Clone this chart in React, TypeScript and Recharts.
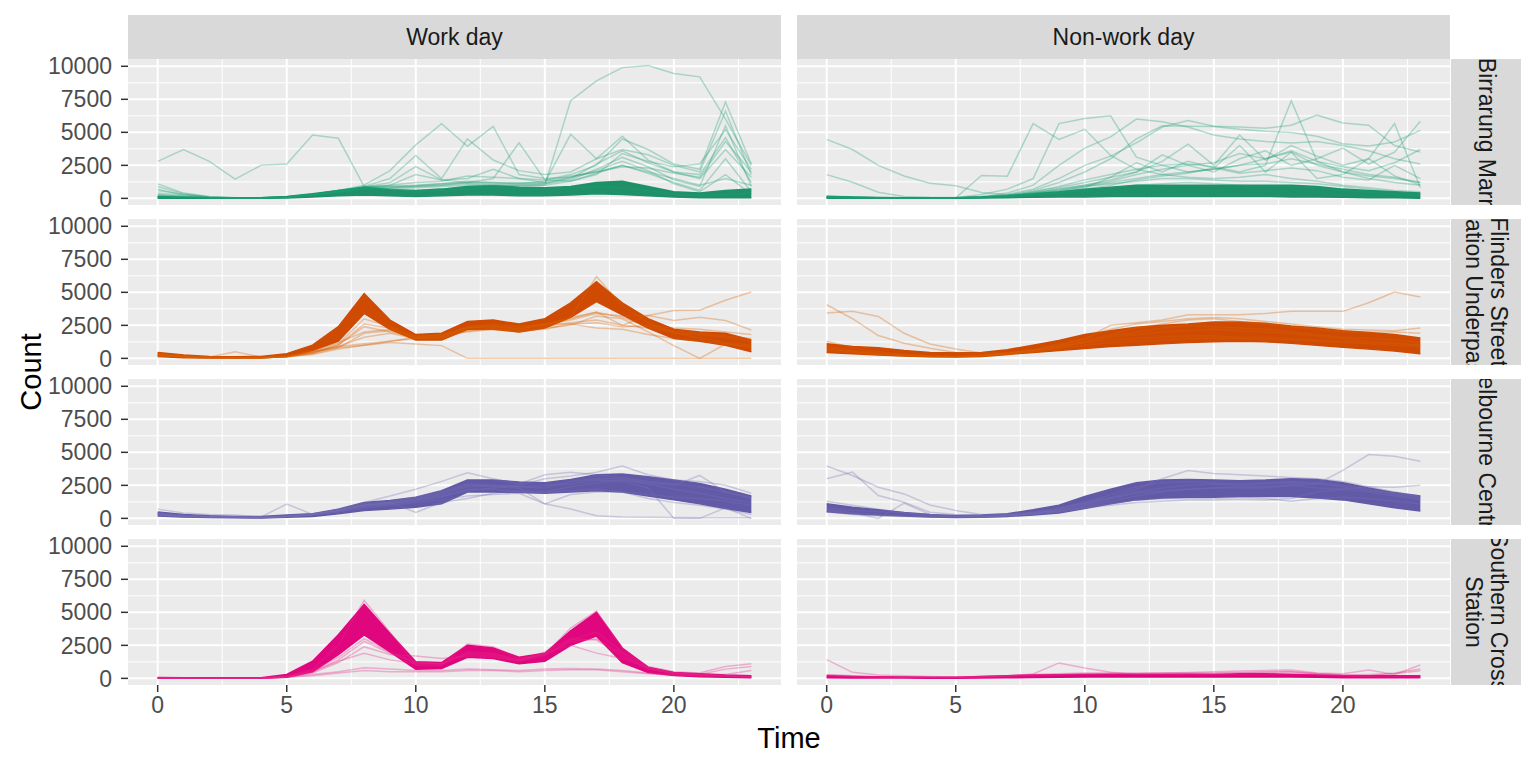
import React from "react";
import { ComposedChart, Line, Area, XAxis, YAxis, CartesianGrid } from "recharts";

// ---------- categories / ticks ----------
const hours = [0, 1, 2, 3, 4, 5, 6, 7, 8, 9, 10, 11, 12, 13, 14, 15, 16, 17, 18, 19, 20, 21, 22, 23];
const xTicks = [0, 5, 10, 15, 20];
const xMinor = [2.5, 7.5, 12.5, 17.5, 22.5];
const yTicks = [0, 2500, 5000, 7500, 10000];
const yMinor = [1250, 3750, 6250, 8750];
const dayTypes = ["Work day", "Non-work day"];
const sensors = ["Birrarung Marr", "Flinders Street\nStation Underpass", "Melbourne Central", "Southern Cross\nStation"];
const sensorColors = ["#1B9E77", "#D95F02", "#7570B3", "#E7298A"];
const bandColors = ["#1F9169", "#CF4B03", "#625AA7", "#E0067E"];

// ---------- Birrarung Marr ----------
const bwLow = [0, 0, 0, 0, 0, 30, 100, 200, 250, 200, 150, 200, 250, 250, 200, 200, 250, 350, 300, 200, 100, 50, 50, 50];
const bwHigh = [150, 80, 50, 30, 50, 150, 350, 600, 850, 650, 600, 700, 900, 950, 850, 800, 900, 1200, 1300, 900, 500, 400, 600, 700];
const bwLines = [
  [2800, 3700, 2800, 1450, 2500, 2600, 4800, 4550, 900, 700, 500, 600, 700, 800, 700, 700, 800, 900, 800, 600, 300, 200, 300, 400],
  [100, 50, 30, 20, 30, 100, 300, 600, 800, 700, 600, 700, 900, 1000, 900, 1000, 7400, 8900, 9900, 10050, 9450, 9200, 6000, 2500],
  [1100, 400, 150, 50, 50, 100, 300, 600, 1000, 2100, 4050, 5650, 3950, 5450, 1800, 1500, 1600, 2000, 2500, 2000, 1500, 1000, 1500, 1000],
  [600, 300, 100, 50, 50, 100, 300, 500, 900, 1500, 3250, 1500, 4500, 2900, 2100, 1800, 2000, 3000, 3700, 3300, 2500, 2000, 6600, 1800],
  [900, 350, 100, 30, 30, 100, 300, 500, 850, 1200, 2400, 1400, 1200, 1500, 4200, 1400, 1300, 1800, 3400, 2800, 2400, 2600, 5200, 2200],
  [700, 250, 80, 30, 40, 100, 300, 500, 800, 1000, 1800, 1400, 1500, 2200, 1500, 1200, 4850, 3000, 4700, 2900, 2000, 1500, 3700, 1600],
  [400, 200, 60, 20, 40, 100, 300, 600, 900, 1000, 1200, 1300, 1700, 1600, 1500, 1400, 1800, 2500, 4500, 3700, 2600, 2200, 7300, 2600],
  [300, 150, 50, 20, 30, 80, 250, 500, 800, 900, 1000, 1100, 1300, 1200, 1200, 1200, 1500, 2600, 3600, 2700, 2000, 1800, 4600, 1200],
  [200, 100, 40, 20, 30, 80, 250, 500, 700, 800, 900, 1000, 1200, 1100, 1100, 1100, 1400, 2200, 3100, 2400, 1400, 900, 5500, 900],
  [150, 80, 30, 10, 30, 80, 200, 450, 700, 700, 800, 900, 1000, 1000, 1000, 1000, 1300, 1900, 2500, 1900, 1200, 600, 3000, 500],
  [100, 60, 30, 10, 30, 80, 250, 450, 750, 800, 900, 1000, 1100, 1000, 1000, 1100, 1600, 2100, 2800, 2100, 1100, 500, 1800, 300],
  [250, 120, 40, 10, 30, 100, 300, 550, 850, 900, 950, 1100, 1200, 1200, 1100, 1300, 1700, 2000, 2400, 2300, 1900, 1600, 4300, 2000],
];
const bnLow = [0, 0, 0, 0, 0, 0, 20, 50, 80, 100, 100, 150, 150, 150, 150, 150, 150, 150, 100, 100, 80, 50, 50, 0];
const bnHigh = [150, 100, 60, 40, 40, 50, 100, 200, 350, 500, 700, 850, 1000, 1000, 1000, 1000, 1000, 1000, 1000, 900, 700, 600, 500, 400];
const bnLines = [
  [4470, 3700, 2500, 1700, 1150, 950, 450, 300, 300, 400, 600, 800, 1000, 1100, 1200, 1100, 1000, 900, 900, 800, 600, 500, 300, 200],
  [1800, 1220, 460, 150, 80, 60, 100, 200, 400, 600, 900, 1100, 1300, 1500, 1500, 1400, 1300, 1300, 1200, 1100, 900, 700, 500, 300],
  [200, 100, 50, 30, 30, 50, 1730, 1680, 5660, 4470, 5230, 3250, 2200, 1800, 1600, 1500, 1600, 1800, 1500, 1300, 1000, 800, 600, 500],
  [100, 60, 40, 20, 20, 40, 300, 700, 1500, 5660, 6050, 6250, 3120, 2500, 2000, 2200, 2500, 3000, 3500, 2500, 2000, 1700, 1500, 1200],
  [150, 80, 40, 20, 20, 40, 150, 400, 1000, 2500, 3800, 4650, 6000, 5800, 5400, 4800, 4500, 4300, 4200, 4300, 4000, 3600, 3000, 2600],
  [100, 50, 30, 20, 20, 30, 100, 300, 700, 1500, 2500, 3200, 4200, 5400, 5900, 5460, 5400, 5300, 5540, 6300, 5700, 5540, 4000, 3500],
  [120, 60, 30, 20, 20, 30, 100, 250, 600, 1200, 2000, 3000, 4500, 5490, 5460, 5435, 5230, 5080, 4980, 4700, 4140, 3960, 4270, 5150],
  [80, 50, 30, 20, 20, 30, 80, 200, 500, 900, 1400, 1800, 2200, 2500, 2600, 2400, 2000, 2500, 7400, 2800, 2000, 1500, 1200, 1000],
  [60, 40, 20, 10, 10, 20, 80, 200, 500, 800, 1200, 1600, 2000, 2800, 4100, 2500, 4800, 2900, 4000, 3200, 2500, 3000, 5660, 800],
  [50, 30, 20, 10, 10, 20, 60, 150, 400, 700, 1000, 1400, 2000, 3300, 2500, 2000, 3000, 3600, 2500, 3000, 3800, 2600, 3500, 5840],
  [80, 40, 20, 10, 10, 20, 60, 150, 400, 700, 1000, 1300, 1800, 2200, 2500, 2700, 3400, 3000, 3600, 2800, 2400, 2100, 2700, 3700],
  [70, 40, 20, 10, 10, 20, 60, 150, 350, 600, 900, 1200, 1500, 1800, 2000, 2200, 2500, 2600, 3000, 2600, 2200, 1800, 1600, 1200],
  [100, 50, 30, 10, 10, 20, 60, 150, 300, 500, 800, 1600, 2700, 2000, 2800, 2300, 4000, 2000, 3500, 1500, 1800, 3000, 1700, 1000],
  [50, 30, 20, 10, 10, 20, 50, 100, 300, 400, 700, 1000, 1400, 1700, 1900, 2300, 1900, 2100, 2300, 2100, 1600, 1400, 2500, 1500],
];

// ---------- Flinders Street Station Underpass ----------
const fwLow = [150, 50, 30, 30, 30, 150, 600, 1300, 3400, 2200, 1400, 1400, 2200, 2200, 2000, 2300, 3100, 4300, 3300, 2300, 1500, 1300, 1000, 500];
const fwHigh = [450, 250, 150, 120, 150, 350, 1000, 2400, 4900, 2900, 1800, 1900, 2800, 2900, 2600, 3000, 4200, 5800, 4200, 3000, 2200, 2000, 1900, 1400];
const fwLines = [
  [300, 100, 50, 50, 50, 150, 500, 800, 1000, 1200, 1090, 965, 0, 0, 0, 0, 0, 0, 0, 0, 0, 0, 0, 0],
  [250, 120, 80, 60, 60, 150, 600, 1200, 2000, 2200, 1700, 1800, 2400, 2500, 2400, 2600, 3000, 3500, 2500, 3250, 3630, 3650, 4400, 5030],
  [300, 150, 100, 500, 100, 200, 500, 900, 1600, 1900, 1500, 1600, 2300, 2400, 2300, 2500, 2900, 3400, 3200, 3250, 2870, 3120, 2870, 2150],
  [200, 100, 50, 50, 50, 150, 400, 1000, 2400, 2000, 1600, 1700, 2300, 2500, 2200, 2600, 2600, 2700, 2400, 2500, 2300, 2200, 2000, 1800],
  [300, 150, 80, 60, 60, 120, 300, 700, 1000, 1300, 1600, 1800, 2000, 2200, 2100, 2400, 2700, 2900, 2500, 2300, 2000, 1500, 1200, 1000],
  [400, 200, 100, 50, 60, 150, 350, 800, 1900, 2100, 1600, 1500, 2100, 2200, 2000, 2300, 2500, 3200, 3000, 2000, 965, 0, 1090, 800],
  [200, 100, 50, 40, 40, 100, 400, 900, 1100, 1300, 1500, 1500, 2100, 2300, 2100, 2200, 2600, 2300, 2200, 1800, 1500, 1300, 1100, 900],
  [350, 150, 80, 50, 50, 150, 500, 1100, 3000, 2400, 1700, 1700, 2400, 2600, 2400, 2600, 3100, 6200, 4000, 2700, 1900, 1800, 1600, 1300],
  [250, 100, 50, 50, 50, 150, 450, 1000, 2600, 2300, 1500, 1600, 2300, 2400, 2200, 2500, 3100, 3500, 3100, 2400, 2100, 1900, 1700, 1500],
];
const fnLow = [450, 350, 250, 180, 120, 100, 150, 300, 450, 600, 750, 900, 1000, 1100, 1200, 1250, 1300, 1250, 1150, 1000, 850, 700, 550, 350];
const fnHigh = [1100, 900, 800, 600, 450, 420, 450, 650, 1000, 1350, 1800, 2100, 2350, 2500, 2600, 2750, 2750, 2650, 2450, 2300, 2100, 1950, 1800, 1550];
const fnLines = [
  [4060, 3000, 1730, 1140, 760, 450, 300, 350, 500, 800, 1200, 1600, 1800, 2000, 2100, 2200, 2100, 2000, 1900, 1700, 1500, 1300, 1200, 1000],
  [3430, 3560, 3175, 1900, 1090, 710, 400, 400, 600, 900, 1300, 1700, 2000, 2300, 2500, 2400, 2300, 2200, 2000, 1800, 1600, 1500, 1400, 1200],
  [600, 400, 300, 200, 150, 150, 200, 400, 700, 1100, 1500, 2500, 2700, 2900, 3300, 3300, 3300, 3400, 3560, 3560, 3560, 4216, 5030, 4650],
  [900, 600, 400, 300, 200, 150, 200, 350, 600, 1000, 1500, 2200, 2600, 2800, 3000, 3100, 3000, 2800, 2600, 2400, 2200, 2150, 2100, 2300],
  [800, 500, 350, 250, 150, 150, 200, 400, 650, 1000, 1400, 1800, 2300, 2600, 2900, 3000, 2800, 2600, 2400, 2200, 2000, 2000, 2000, 1900],
  [1300, 800, 500, 300, 200, 150, 200, 350, 600, 900, 1200, 1400, 1500, 1600, 1700, 1700, 1600, 1600, 1500, 1400, 1300, 1200, 1100, 1000],
  [700, 500, 300, 200, 150, 120, 150, 300, 500, 750, 1000, 1200, 1300, 1400, 1500, 1500, 1500, 1450, 1400, 1300, 1200, 1100, 1000, 900],
];

// ---------- Melbourne Central ----------
const mwLow = [180, 100, 70, 50, 30, 80, 150, 350, 600, 700, 850, 1100, 2000, 2000, 1950, 1900, 2000, 2100, 2000, 1700, 1400, 1100, 750, 450];
const mwHigh = [480, 300, 200, 150, 150, 250, 350, 700, 1200, 1350, 1600, 2100, 2900, 2900, 2750, 2700, 2950, 3300, 3350, 3150, 2900, 2650, 2200, 1700];
const mwLines = [
  [300, 150, 100, 60, 50, 150, 300, 700, 1000, 1200, 1500, 1900, 2500, 2400, 2300, 1100, 710, 200, 100, 80, 60, 50, 50, 50],
  [700, 400, 300, 250, 100, 1090, 300, 500, 900, 1100, 1400, 1800, 2400, 2500, 2400, 2500, 2600, 2900, 2800, 2300, 0, 0, 800, 0],
  [400, 200, 150, 100, 80, 200, 350, 600, 1100, 1300, 1600, 2000, 2600, 2500, 2400, 2300, 2800, 3000, 3000, 2700, 2500, 3250, 2000, 1600],
  [350, 200, 150, 100, 80, 150, 300, 700, 1200, 1700, 2200, 2800, 3450, 3000, 2600, 3300, 3500, 3300, 3100, 2800, 2600, 2400, 2000, 1500],
  [250, 150, 100, 80, 60, 150, 300, 600, 1000, 1200, 1400, 1700, 2100, 2300, 2500, 3000, 3200, 3500, 3960, 3300, 2900, 2800, 2500, 1900],
  [300, 200, 100, 80, 60, 150, 300, 600, 1000, 1200, 457, 1200, 1500, 1900, 2100, 2000, 2400, 2700, 2900, 2600, 2200, 1900, 1500, 1200],
  [200, 100, 80, 60, 50, 120, 250, 500, 800, 1000, 1200, 1400, 1700, 1800, 1900, 1090, 1800, 2000, 2000, 1800, 1600, 1500, 1300, 1000],
  [350, 200, 150, 100, 70, 150, 300, 600, 1000, 1100, 1300, 1600, 2200, 2200, 2000, 1950, 2100, 2200, 2000, 1500, 1200, 1000, 700, 300],
];
const mnLow = [500, 350, 250, 180, 100, 70, 80, 150, 250, 400, 750, 1100, 1400, 1550, 1600, 1600, 1650, 1650, 1650, 1550, 1400, 1100, 800, 550];
const mnHigh = [1100, 850, 650, 450, 300, 200, 250, 350, 650, 1000, 1650, 2200, 2700, 2900, 2950, 2900, 2850, 2900, 3000, 2950, 2700, 2300, 1950, 1700];
const mnLines = [
  [3960, 3250, 2360, 1850, 1015, 600, 300, 300, 400, 600, 1000, 1500, 2000, 2300, 2500, 2600, 2500, 2600, 2700, 2600, 2400, 2100, 1900, 1700],
  [3000, 3500, 1730, 1220, 460, 300, 200, 250, 400, 700, 1200, 1800, 2400, 2700, 2800, 2700, 2600, 2700, 2800, 2700, 2500, 2200, 1800, 1500],
  [700, 400, 0, 1150, 300, 150, 100, 200, 350, 600, 900, 1300, 1700, 2000, 2200, 2300, 2300, 2300, 2500, 2600, 3630, 4830, 4700, 4320],
  [600, 400, 300, 200, 150, 100, 100, 200, 400, 700, 1100, 1500, 1900, 2100, 2200, 2300, 2400, 2400, 2500, 2300, 2200, 2400, 2360, 2500],
  [800, 600, 500, 400, 300, 250, 200, 300, 500, 800, 1200, 1600, 2200, 3000, 3630, 3400, 3300, 3200, 3100, 3000, 2800, 2400, 2000, 1600],
  [500, 300, 200, 150, 100, 80, 100, 150, 300, 500, 800, 1000, 1200, 1300, 1400, 1400, 1450, 1400, 1500, 2000, 2200, 2000, 1700, 1400],
  [1300, 1000, 700, 400, 200, 150, 150, 200, 350, 500, 800, 1100, 1400, 1500, 1500, 1500, 1600, 1500, 1300, 1500, 1600, 1500, 1300, 1100],
];

// ---------- Southern Cross Station ----------
const swLow = [0, 0, 0, 0, 0, 80, 500, 1800, 3300, 2000, 700, 750, 1600, 1500, 1100, 1300, 2500, 3200, 1200, 450, 220, 130, 80, 40];
const swHigh = [60, 50, 40, 40, 50, 300, 1300, 3300, 5600, 3400, 1250, 1200, 2500, 2300, 1600, 1900, 3600, 5000, 2300, 850, 450, 350, 250, 200];
const swLines = [
  [20, 10, 10, 10, 20, 100, 300, 500, 800, 700, 600, 600, 700, 650, 600, 700, 750, 700, 600, 400, 250, 200, 150, 100],
  [20, 10, 10, 10, 20, 100, 400, 1200, 2400, 1800, 1700, 1500, 1700, 1600, 1300, 1700, 2900, 3500, 2000, 900, 500, 400, 890, 1100],
  [30, 20, 10, 10, 20, 100, 500, 1300, 1900, 1400, 1100, 1100, 1800, 1700, 1300, 1900, 2500, 1910, 1500, 800, 400, 300, 700, 900],
  [20, 10, 10, 10, 20, 150, 600, 1600, 3000, 2000, 1200, 1100, 2000, 1900, 1400, 1800, 2800, 3000, 1900, 700, 400, 300, 300, 600],
  [10, 10, 10, 10, 20, 80, 200, 400, 600, 500, 500, 500, 600, 600, 500, 600, 650, 650, 500, 350, 250, 200, 200, 100],
  [20, 20, 10, 10, 20, 150, 700, 2500, 5900, 3500, 1000, 1000, 2600, 2400, 1500, 1800, 3800, 5100, 2300, 800, 400, 300, 200, 150],
  [20, 10, 10, 10, 20, 120, 500, 1400, 2800, 1900, 1200, 1100, 1900, 1800, 1400, 2000, 3000, 2900, 1700, 700, 350, 250, 200, 150],
];
const snLow = [50, 30, 20, 20, 10, 10, 30, 50, 60, 80, 100, 100, 100, 100, 100, 100, 100, 100, 100, 80, 50, 40, 40, 50];
const snHigh = [200, 150, 120, 100, 80, 80, 150, 200, 250, 280, 300, 300, 300, 300, 320, 300, 350, 350, 300, 250, 200, 200, 200, 200];
const snLines = [
  [1420, 457, 250, 200, 150, 100, 150, 200, 330, 1170, 790, 457, 300, 300, 300, 300, 300, 300, 350, 300, 200, 150, 150, 200],
  [300, 200, 100, 80, 60, 60, 150, 200, 300, 350, 400, 400, 400, 400, 450, 500, 550, 600, 635, 400, 350, 635, 300, 1015],
  [250, 150, 100, 80, 60, 60, 100, 200, 250, 300, 350, 350, 350, 400, 400, 400, 450, 500, 500, 350, 250, 200, 400, 710],
  [200, 150, 100, 80, 60, 60, 100, 150, 200, 250, 300, 350, 350, 350, 350, 350, 400, 450, 500, 350, 250, 300, 350, 585],
];

const panels = [
  [{ low: bwLow, high: bwHigh, lines: bwLines }, { low: bnLow, high: bnHigh, lines: bnLines }],
  [{ low: fwLow, high: fwHigh, lines: fwLines }, { low: fnLow, high: fnHigh, lines: fnLines }],
  [{ low: mwLow, high: mwHigh, lines: mwLines }, { low: mnLow, high: mnHigh, lines: mnLines }],
  [{ low: swLow, high: swHigh, lines: swLines }, { low: snLow, high: snHigh, lines: snLines }],
];

// ---------- layout ----------
const FONT = '"Liberation Sans", Arial, Helvetica, sans-serif';
const PW = 653;
const PH = 146;
const PAD = 14;
const Y_AXIS_W = 128;
const RIGHT_LEFT = 797;
const ROW_TOPS = [59, 219, 379, 539];
const X_DOMAIN: [number, number] = [-1.15, 24.15];
const Y_DOMAIN: [number, number] = [-502, 10552];

function Panel({ row, col }: { row: number; col: number }) {
  const p = panels[row][col];
  const color = sensorColors[row];
  const band = bandColors[row];
  const data = hours.map((h, i) => {
    const r: any = { hour: h, band: [p.low[i], p.high[i]] };
    p.lines.forEach((l, k) => {
      r["l" + k] = l[i];
    });
    return r;
  });
  const isLeft = col === 0;
  const isBottom = row === 3;
  const width = isLeft ? Y_AXIS_W + PW : PW;
  const height = PAD + PH + (isBottom ? 60 : PAD);
  const tickStyle = { fontSize: 23, fill: "#4D4D4D", fontFamily: FONT };
  return (
    <div style={{ position: "absolute", left: isLeft ? 0 : RIGHT_LEFT, top: ROW_TOPS[row] - PAD }}>
      <ComposedChart
        width={width}
        height={height}
        data={data}
        margin={{ top: PAD, right: 0, bottom: isBottom ? 0 : PAD, left: 0 }}
      >
        <CartesianGrid horizontalValues={yMinor} verticalValues={xMinor} stroke="#FFFFFF" strokeWidth={1} fill="#EBEBEB" />
        <CartesianGrid horizontalValues={yTicks} verticalValues={xTicks} stroke="#FFFFFF" strokeWidth={2} />
        <XAxis
          dataKey="hour"
          type="number"
          domain={X_DOMAIN}
          allowDataOverflow
          ticks={xTicks}
          interval={0}
          hide={!isBottom}
          height={60}
          axisLine={false}
          tickSize={7}
          tickMargin={5}
          tickLine={{ stroke: "#333333", strokeWidth: 1.5 }}
          tick={tickStyle}
        />
        <YAxis
          type="number"
          domain={Y_DOMAIN}
          allowDataOverflow
          ticks={yTicks}
          interval={0}
          hide={!isLeft}
          width={Y_AXIS_W}
          axisLine={false}
          tickSize={7}
          tickMargin={9}
          tickLine={{ stroke: "#333333", strokeWidth: 1.5 }}
          tick={tickStyle}
        />
        <Area
          dataKey="band"
          type="linear"
          stroke={band}
          strokeWidth={1.5}
          fill={band}
          fillOpacity={1}
          isAnimationActive={false}
          dot={false}
          activeDot={false}
        />
        {p.lines.map((_, k) => (
          <Line
            key={k}
            dataKey={"l" + k}
            type="linear"
            stroke={color}
            strokeOpacity={0.32}
            strokeWidth={1.5}
            dot={false}
            activeDot={false}
            isAnimationActive={false}
          />
        ))}
      </ComposedChart>
    </div>
  );
}

function TopStrip({ col }: { col: number }) {
  return (
    <div
      style={{
        position: "absolute",
        left: col === 0 ? Y_AXIS_W : RIGHT_LEFT,
        top: 15,
        width: PW,
        height: 44,
        background: "#D9D9D9",
        display: "flex",
        alignItems: "center",
        justifyContent: "center",
        fontFamily: FONT,
        fontSize: 23,
        color: "#1A1A1A",
      }}
    >
      {dayTypes[col]}
    </div>
  );
}

function SideStrip({ row }: { row: number }) {
  return (
    <div
      style={{
        position: "absolute",
        left: 1451,
        top: ROW_TOPS[row],
        width: 70,
        height: PH,
        background: "#D9D9D9",
        overflow: "hidden",
      }}
    >
      <div
        style={{
          position: "absolute",
          left: "50%",
          top: "50%",
          width: 400,
          transform: "translate(-50%, -50%) rotate(90deg)",
          textAlign: "center",
          whiteSpace: "pre",
          fontFamily: FONT,
          fontSize: 23,
          lineHeight: "25px",
          color: "#1A1A1A",
        }}
      >
        {sensors[row]}
      </div>
    </div>
  );
}

export default function App() {
  return (
    <div style={{ position: "absolute", left: 0, top: 0, width: 1536, height: 768, background: "#FFFFFF", overflow: "hidden" }}>
      {[0, 1, 2, 3].map((r) => [0, 1].map((c) => <Panel key={r + "-" + c} row={r} col={c} />))}
      <TopStrip col={0} />
      <TopStrip col={1} />
      {[0, 1, 2, 3].map((r) => (
        <SideStrip key={r} row={r} />
      ))}
      <div
        style={{
          position: "absolute",
          left: 31,
          top: 372,
          transform: "translate(-50%, -50%) rotate(-90deg)",
          fontFamily: FONT,
          fontSize: 29,
          color: "#000000",
          whiteSpace: "nowrap",
        }}
      >
        Count
      </div>
      <div
        style={{
          position: "absolute",
          left: 789,
          top: 738,
          transform: "translate(-50%, -50%)",
          fontFamily: FONT,
          fontSize: 29,
          color: "#000000",
          whiteSpace: "nowrap",
        }}
      >
        Time
      </div>
    </div>
  );
}
